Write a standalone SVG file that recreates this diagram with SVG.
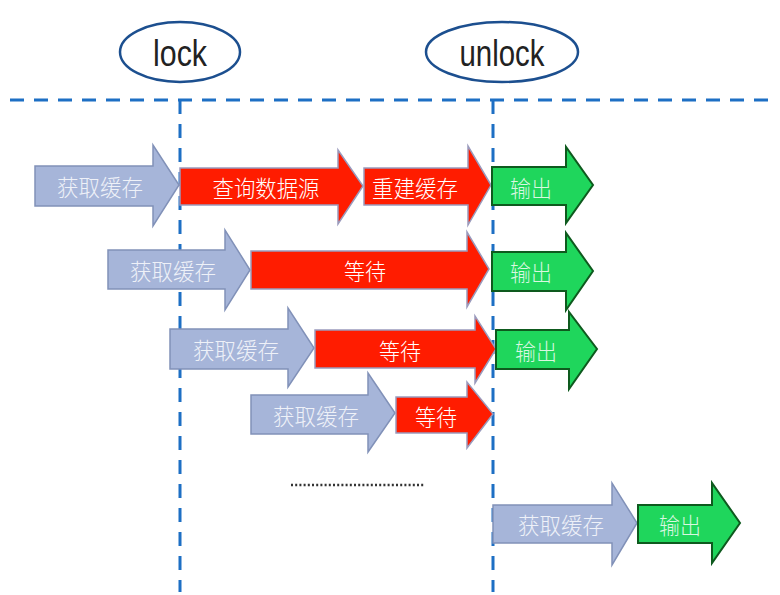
<svg xmlns="http://www.w3.org/2000/svg" width="780" height="595" viewBox="0 0 780 595">
<style>
.gray{fill:#a6b5d9;stroke:#8191b8;stroke-width:1.5}
.red{fill:#ff1c00;stroke:#9a9bbd;stroke-width:1.5}
.green{fill:#1fd65c;stroke:#0e5a1e;stroke-width:2}
.t{font-family:"Noto Sans CJK SC","Liberation Sans",sans-serif;font-size:23px;font-weight:300;text-anchor:middle;dominant-baseline:central}
.tg{fill:#eef1f8}
.tr{fill:#ffffff}
.tgr{fill:#d9f7e0}
.guide{stroke:#1d6fc4;stroke-width:3;stroke-dasharray:14 10;fill:none}
.el{fill:#ffffff;stroke:#1c4f8f;stroke-width:2.5}
.lab{font-family:"Liberation Sans",Arial,sans-serif;font-size:36px;fill:#222;text-anchor:middle;dominant-baseline:central}
</style>
<g id="connectors">
<line class="guide" x1="10" y1="100" x2="772" y2="100"/>
<line class="guide" x1="180" y1="100" x2="180" y2="592"/>
<line class="guide" x1="493" y1="100" x2="493" y2="592"/>
<line x1="291" y1="485" x2="424" y2="485" stroke="#333" stroke-width="2.5" stroke-dasharray="2 2.2"/>
</g>
<g id="lock"><ellipse class="el" cx="180" cy="52" rx="60" ry="30"/><text class="lab" x="180" y="53" textLength="54" lengthAdjust="spacingAndGlyphs">lock</text></g>
<g id="unlock"><ellipse class="el" cx="502" cy="52" rx="76" ry="30"/><text class="lab" x="502" y="53" textLength="85" lengthAdjust="spacingAndGlyphs">unlock</text></g>

<g id="r1-get"><path class="gray" d="M35,166 L153,166 L153,145 L179,185 L153,226 L153,206 L35,206 Z"/><text class="t tg" x="100" y="186" textLength="86" lengthAdjust="spacingAndGlyphs">获取缓存</text></g>
<g id="r1-query"><path class="red" d="M180,168 L338,168 L338,150 L363,186 L338,224 L338,205 L180,205 Z"/><text class="t tr" x="266" y="187" textLength="107" lengthAdjust="spacingAndGlyphs">查询数据源</text></g>
<g id="r1-rebuild"><path class="red" d="M364,168 L468,168 L468,146 L491,185 L468,225 L468,205 L364,205 Z"/><text class="t tr" x="415" y="187" textLength="86" lengthAdjust="spacingAndGlyphs">重建缓存</text></g>
<g id="r1-out"><path class="green" d="M492,167 L566,167 L566,147 L593,185 L566,223 L566,205 L492,205 Z"/><text class="t tgr" x="531" y="187" textLength="42" lengthAdjust="spacingAndGlyphs">输出</text></g>

<g id="r2-get"><path class="gray" d="M108,250 L225,250 L225,230 L250,270 L225,310 L225,289 L108,289 Z"/><text class="t tg" x="173" y="270" textLength="86" lengthAdjust="spacingAndGlyphs">获取缓存</text></g>
<g id="r2-wait"><path class="red" d="M251,251 L467,251 L467,232 L489,269 L467,307 L467,289 L251,289 Z"/><text class="t tr" x="365" y="270" textLength="42" lengthAdjust="spacingAndGlyphs">等待</text></g>
<g id="r2-out"><path class="green" d="M492,252 L566,252 L566,233 L593,271 L566,310 L566,291 L492,291 Z"/><text class="t tgr" x="531" y="271" textLength="42" lengthAdjust="spacingAndGlyphs">输出</text></g>

<g id="r3-get"><path class="gray" d="M170,329 L288,329 L288,308 L314,348 L288,387 L288,369 L170,369 Z"/><text class="t tg" x="236" y="349" textLength="86" lengthAdjust="spacingAndGlyphs">获取缓存</text></g>
<g id="r3-wait"><path class="red" d="M315,330 L475,330 L475,316 L496,349 L475,383 L475,368 L315,368 Z"/><text class="t tr" x="400" y="350" textLength="42" lengthAdjust="spacingAndGlyphs">等待</text></g>
<g id="r3-out"><path class="green" d="M496,330 L569,330 L569,312 L597,349 L569,389 L569,369 L496,369 Z"/><text class="t tgr" x="536" y="350" textLength="42" lengthAdjust="spacingAndGlyphs">输出</text></g>

<g id="r4-get"><path class="gray" d="M251,395 L368,395 L368,373 L395,413 L368,452 L368,434 L251,434 Z"/><text class="t tg" x="316" y="415" textLength="86" lengthAdjust="spacingAndGlyphs">获取缓存</text></g>
<g id="r4-wait"><path class="red" d="M396,397 L467,397 L467,382 L493,414 L467,448 L467,433 L396,433 Z"/><text class="t tr" x="436" y="416" textLength="42" lengthAdjust="spacingAndGlyphs">等待</text></g>

<g id="r5-get"><path class="gray" d="M493,505 L612,505 L612,483 L637,523 L612,565 L612,543 L493,543 Z"/><text class="t tg" x="561" y="524" textLength="86" lengthAdjust="spacingAndGlyphs">获取缓存</text></g>
<g id="r5-out"><path class="green" d="M638,505 L712,505 L712,483 L740,523 L712,563 L712,543 L638,543 Z"/><text class="t tgr" x="680" y="524" textLength="42" lengthAdjust="spacingAndGlyphs">输出</text></g>
</svg>
